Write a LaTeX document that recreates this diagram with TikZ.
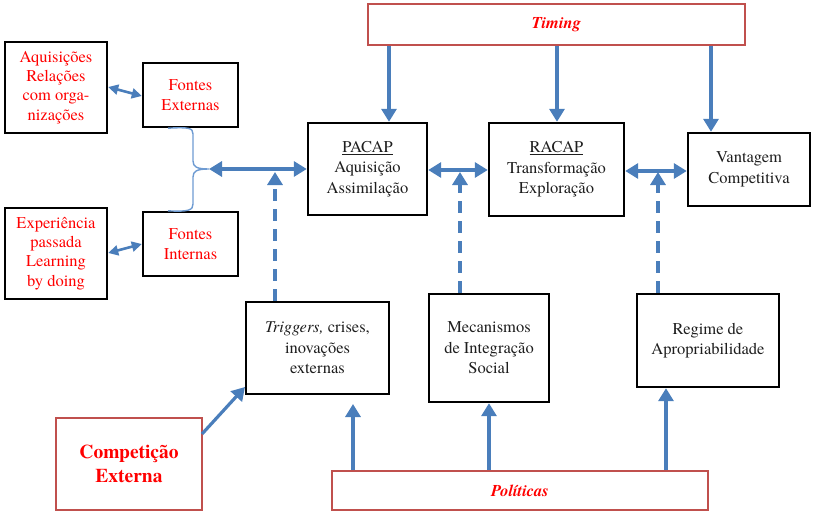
\documentclass[tikz,border=0pt]{standalone}
\usepackage{fontspec}
\setmainfont{texgyretermes}[Extension=.otf,UprightFont=*-regular,BoldFont=*-bold,ItalicFont=*-italic,BoldItalicFont=*-bolditalic]
\usetikzlibrary{arrows.meta}
\definecolor{flow}{RGB}{74,126,187}
\definecolor{flowlight}{RGB}{110,155,210}
\definecolor{frame}{RGB}{192,80,77}
\definecolor{hot}{RGB}{255,0,0}
\definecolor{ink}{RGB}{30,30,30}
\begin{document}
\begin{tikzpicture}[x=1pt,y=-1pt,
  box/.style={draw=black,line width=2.4pt,fill=white,align=center,inner sep=2pt,
    font=\fontsize{16.5}{20.5}\selectfont,text=ink},
  redbox/.style={box,text=hot},
  panel/.style={draw=frame,line width=2.4pt,fill=white,align=center,inner sep=2pt,text=hot},
  arr/.style={draw=flow,line width=3.2pt,-{Triangle[width=15pt,length=13pt]}},
  darr/.style={draw=flow,line width=3.2pt,{Triangle[width=15pt,length=13pt]}-{Triangle[width=15pt,length=13pt]}},
  sarr/.style={draw=flow,line width=2.6pt,{Triangle[width=10pt,length=10pt]}-{Triangle[width=10pt,length=10pt]}},
  dasharr/.style={arr,dash pattern=on 12pt off 8pt},
  ]
\useasboundingbox (0,0) rectangle (820,514);

% boxes
\node[panel,minimum width=377pt,minimum height=41pt,font=\fontsize{16.5}{19}\selectfont\bfseries\itshape] (timing) at (556.5,24.5) {Timing};
\node[redbox,minimum width=102pt,minimum height=91pt,font=\fontsize{16.5}{19.2}\selectfont] (aq) at (56,87.5) {Aquisições\\Relações\\com orga-\\nizações};
\node[redbox,minimum width=95pt,minimum height=64pt] (fe) at (190.5,95) {Fontes\\Externas};
\node[redbox,minimum width=102pt,minimum height=91pt,font=\fontsize{16.5}{19.2}\selectfont] (exp) at (56,253.5) {Experiência\\passada\\Learning\\by doing};
\node[redbox,minimum width=95pt,minimum height=64pt] (fi) at (190.5,244) {Fontes\\Internas};
\node[box,minimum width=119pt,minimum height=92pt] (pacap) at (367.5,169) {\underline{PACAP}\\Aquisição\\Assimilação};
\node[box,minimum width=135pt,minimum height=93pt] (racap) at (556.5,169.5) {\underline{RACAP}\\Transformação\\Exploração};
\node[box,minimum width=122pt,minimum height=73pt] (vant) at (749,169.5) {Vantagem\\Competitiva};
\node[box,minimum width=143pt,minimum height=92pt] (trig) at (317.5,348) {\textit{Triggers,} crises,\\inovações\\externas};
\node[box,minimum width=120pt,minimum height=108pt] (mec) at (489,348) {Mecanismos\\de Integração\\Social};
\node[box,minimum width=142pt,minimum height=93pt] (reg) at (708,340.5) {Regime de\\Apropriabilidade};
\node[panel,minimum width=146pt,minimum height=92pt,font=\fontsize{19.5}{24}\selectfont\bfseries] (comp) at (129,464) {Competição\\Externa};
\node[panel,minimum width=376pt,minimum height=39pt,font=\fontsize{16.5}{19}\selectfont\bfseries\itshape] (pol) at (520,490.5) {Políticas};

% guide coordinates for the connectors
\coordinate (t1) at (389,0);
\coordinate (t2) at (557,0);
\coordinate (t3) at (711,0);
\coordinate (brtip) at (209,169);
\coordinate (j1) at (275,172);
\coordinate (j2) at (460,172);
\coordinate (j3) at (658,172);
\coordinate (p1) at (353,404);
\coordinate (p2) at (489,0);
\coordinate (p3) at (666,0);

% timing feeds the three stages
\draw[arr] (timing.south -| t1) -- (pacap.north -| t1);
\draw[arr] (timing.south -| t2) -- (racap.north -| t2);
\draw[arr] (timing.south -| t3) -- (vant.north -| t3);

% sources
\coordinate (a1) at (108,87);
\coordinate (a2) at (143,96);
\coordinate (e1) at (108,253);
\coordinate (e2) at (143,244);
\draw[sarr] (aq.east |- a1) -- (fe.west |- a2);
\draw[sarr] (exp.east |- e1) -- (fi.west |- e2);

% brace joining the two sources
\coordinate (b1) at (168,0);
\draw[flowlight,line width=1.4pt]
  (fe.south -| b1) .. controls (189,127) and (193,128) .. (193,134)
  -- (193,161) .. controls (193,167) and (197,169) .. (brtip)
  .. controls (197,169) and (193,171) .. (193,177)
  -- (193,204) .. controls (193,210) and (189,212) .. (fi.north -| b1);

% stage chain
\draw[darr] (brtip) -- (brtip -| pacap.west);
\draw[darr] (pacap.east |- 0,170) -- (racap.west |- 0,170);
\draw[darr] (racap.east |- 0,171) -- (vant.west |- 0,171);

% moderators
\draw[dasharr] (trig.north -| j1) -- (j1);
\draw[dasharr] (mec.north -| j2) -- (j2);
\draw[dasharr] (reg.north -| j3) -- (j3);

% external drivers
\coordinate (c1) at (202,434);
\coordinate (c2) at (245,387);
\draw[arr] (c1) -- (c2);
\draw[arr] (pol.north -| p1) -- (p1);
\draw[arr] (pol.north -| p2) -- (mec.south -| p2);
\draw[arr] (pol.north -| p3) -- (reg.south -| p3);
\end{tikzpicture}
\end{document}
